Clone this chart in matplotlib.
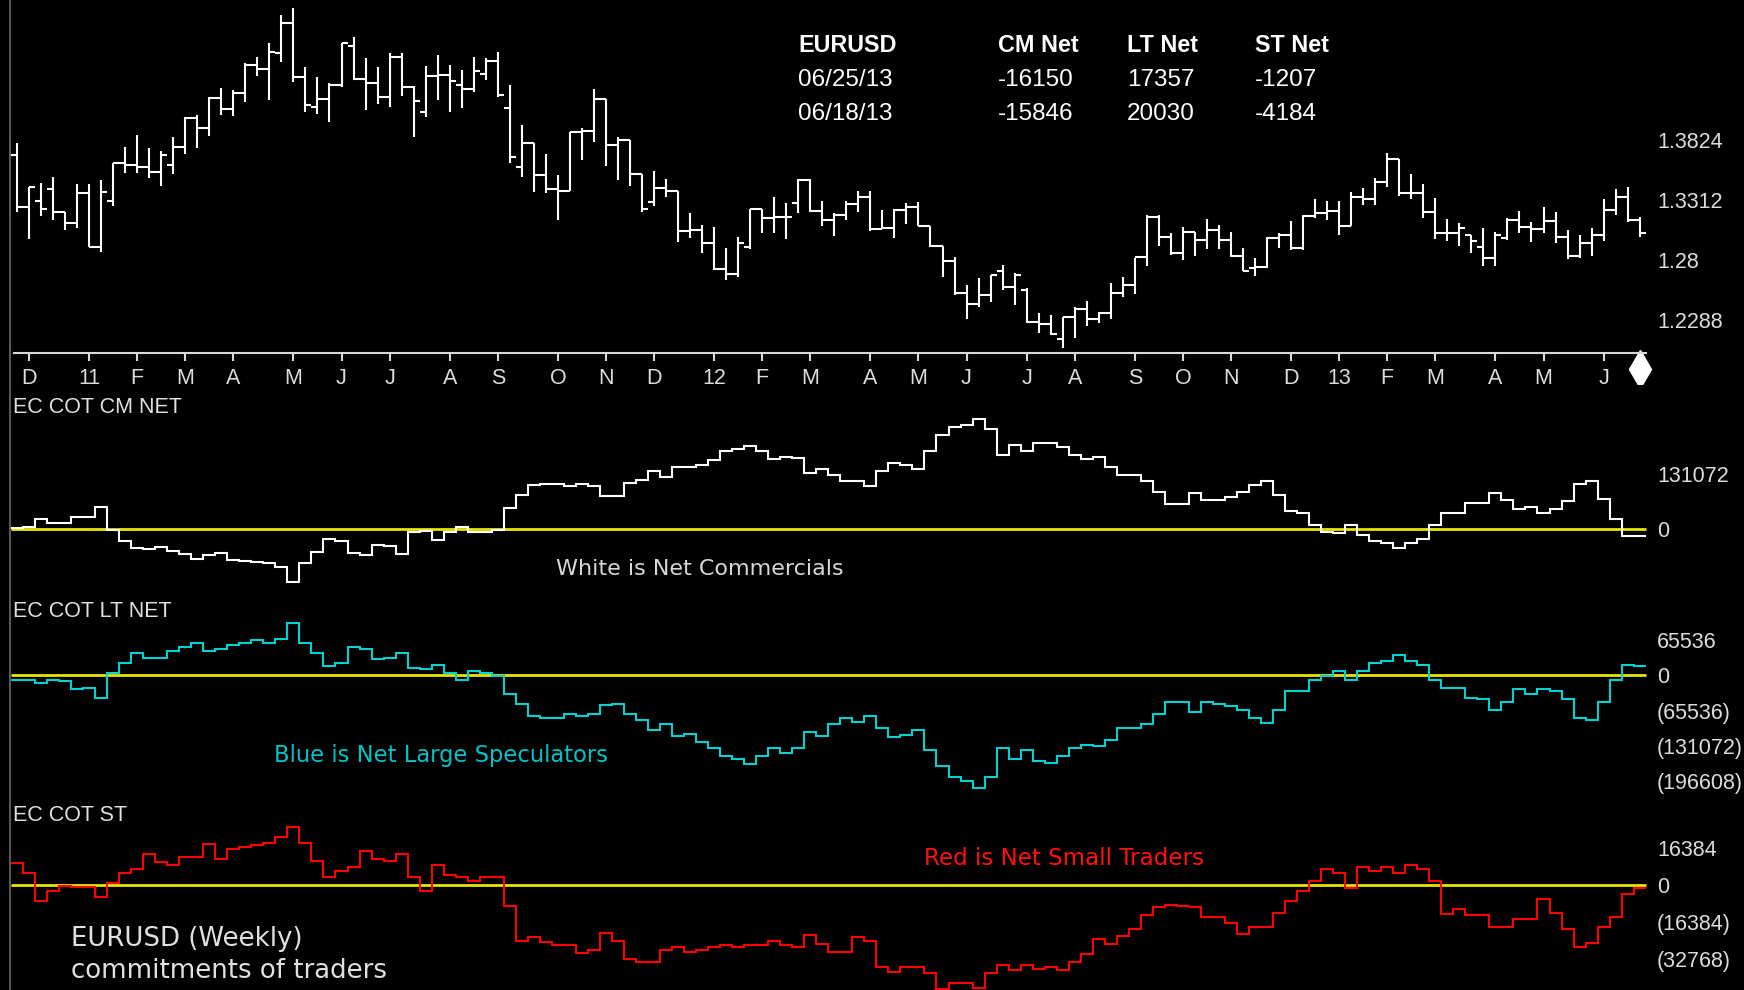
import numpy as np
import pandas as pd
import matplotlib
matplotlib.use("Agg")
import matplotlib.pyplot as plt
from matplotlib.lines import Line2D

# weekly EURUSD bars (Friday closes) from 26 Nov 2010
first_week = "2010-11-26"

opens = [1.3696, 1.3250, 1.3301, 1.3403, 1.3210, 1.3113, 1.3369, 1.2909, 1.3304, 1.3625,
         1.3611, 1.3597, 1.3554, 1.3611, 1.3768, 1.4009, 1.3924, 1.4180, 1.4086, 1.4228,
         1.4464, 1.4427, 1.4564, 1.4820, 1.4359, 1.4109, 1.4174, 1.4294, 1.4626, 1.4345,
         1.4314, 1.4194, 1.4536, 1.4280, 1.4066, 1.4371, 1.4379, 1.4294, 1.4257, 1.4388,
         1.4501, 1.4095, 1.3597, 1.3796, 1.3526, 1.3403, 1.3389, 1.3895, 1.3901, 1.4171,
         1.3782, 1.3824, 1.3534, 1.3298, 1.3412, 1.3389, 1.3048, 1.3056, 1.2943, 1.2721,
         1.2681, 1.2914, 1.3233, 1.3156, 1.3170, 1.3290, 1.3483, 1.3221, 1.3142, 1.3184,
         1.3278, 1.3341, 1.3062, 1.3071, 1.3227, 1.3250, 1.3093, 1.2923, 1.2792, 1.2516,
         1.2425, 1.2502, 1.2709, 1.2573, 1.2544, 1.2274, 1.2254, 1.2126, 1.2317, 1.2382,
         1.2294, 1.2351, 1.2516, 1.2587, 1.2829, 1.3170, 1.2994, 1.2857, 1.3042, 1.2971,
         1.3056, 1.2971, 1.2835, 1.2729, 1.2744, 1.2985, 1.3014, 1.2900, 1.3176, 1.3199,
         1.3221, 1.3091, 1.3341, 1.3318, 1.3469, 1.3659, 1.3375, 1.3369, 1.3207, 1.3028,
         1.3028, 1.3014, 1.2914, 1.2815, 1.2985, 1.3142, 1.3085, 1.3062, 1.3136, 1.2994,
         1.2835, 1.2943, 1.3014, 1.3227, 1.3341, 1.3142]
highs = [1.3802, 1.3426, 1.3455, 1.3512, 1.3210, 1.3446, 1.3446, 1.3483, 1.3631, 1.3768,
         1.3867, 1.3753, 1.3731, 1.3853, 1.4024, 1.4038, 1.4188, 1.4265, 1.4251, 1.4479,
         1.4536, 1.4655, 1.4891, 1.4948, 1.4450, 1.4365, 1.4308, 1.4649, 1.4706, 1.4521,
         1.4450, 1.4570, 1.4564, 1.4285, 1.4456, 1.4550, 1.4464, 1.4422, 1.4536, 1.4521,
         1.4572, 1.4294, 1.3952, 1.3802, 1.3702, 1.3526, 1.3895, 1.3924, 1.4262, 1.4171,
         1.3853, 1.3824, 1.3534, 1.3563, 1.3492, 1.3389, 1.3204, 1.3099, 1.3085, 1.2900,
         1.2994, 1.3236, 1.3233, 1.3341, 1.3290, 1.3492, 1.3492, 1.3304, 1.3204, 1.3304,
         1.3392, 1.3392, 1.3227, 1.3233, 1.3290, 1.3293, 1.3093, 1.2923, 1.2829, 1.2587,
         1.2644, 1.2672, 1.2758, 1.2687, 1.2559, 1.2345, 1.2331, 1.2317, 1.2402, 1.2453,
         1.2360, 1.2601, 1.2658, 1.2820, 1.3184, 1.3184, 1.3028, 1.3079, 1.3042, 1.3150,
         1.3099, 1.3036, 1.2900, 1.2815, 1.3000, 1.3028, 1.3133, 1.3184, 1.3321, 1.3304,
         1.3304, 1.3384, 1.3412, 1.3497, 1.3716, 1.3659, 1.3534, 1.3446, 1.3327, 1.3150,
         1.3119, 1.3014, 1.3071, 1.3036, 1.3156, 1.3221, 1.3128, 1.3256, 1.3213, 1.3056,
         1.3014, 1.3071, 1.3321, 1.3406, 1.3426, 1.3170]
lows = [1.3213, 1.2977, 1.3176, 1.3142, 1.3056, 1.3071, 1.2909, 1.2866, 1.3261, 1.3540,
        1.3540, 1.3497, 1.3432, 1.3534, 1.3702, 1.3759, 1.3861, 1.4038, 1.4029, 1.4152,
        1.4373, 1.4166, 1.4493, 1.4322, 1.4066, 1.4046, 1.3981, 1.4274, 1.4336, 1.4080,
        1.4132, 1.4103, 1.4203, 1.3847, 1.4018, 1.4166, 1.4066, 1.4095, 1.4237, 1.4336,
        1.4188, 1.3625, 1.3506, 1.3384, 1.3375, 1.3142, 1.3389, 1.3654, 1.3810, 1.3605,
        1.3483, 1.3435, 1.3213, 1.3264, 1.3341, 1.2957, 1.2991, 1.2857, 1.2715, 1.2630,
        1.2652, 1.2891, 1.3028, 1.3028, 1.2977, 1.3199, 1.3207, 1.3093, 1.3005, 1.3142,
        1.3207, 1.3051, 1.3062, 1.2991, 1.3108, 1.3093, 1.2914, 1.2652, 1.2502, 1.2294,
        1.2402, 1.2445, 1.2544, 1.2416, 1.2266, 1.2175, 1.2160, 1.2047, 1.2138, 1.2240,
        1.2260, 1.2297, 1.2488, 1.2510, 1.2752, 1.2920, 1.2843, 1.2800, 1.2835, 1.2891,
        1.2891, 1.2829, 1.2709, 1.2664, 1.2729, 1.2900, 1.2886, 1.2886, 1.3156, 1.3142,
        1.3014, 1.3091, 1.3270, 1.3270, 1.3426, 1.3347, 1.3318, 1.3156, 1.2977, 1.2965,
        1.2920, 1.2857, 1.2752, 1.2752, 1.2971, 1.3028, 1.2957, 1.3028, 1.2943, 1.2806,
        1.2815, 1.2835, 1.2965, 1.3184, 1.3128, 1.2994]
closes = [1.3250, 1.3420, 1.3233, 1.3210, 1.3113, 1.3369, 1.2909, 1.3384, 1.3625, 1.3611,
          1.3597, 1.3554, 1.3696, 1.3768, 1.4009, 1.3924, 1.4180, 1.4086, 1.4228, 1.4464,
          1.4427, 1.4572, 1.4820, 1.4359, 1.4123, 1.4174, 1.4294, 1.4649, 1.4345, 1.4314,
          1.4194, 1.4536, 1.4280, 1.4160, 1.4371, 1.4379, 1.4328, 1.4257, 1.4416, 1.4501,
          1.4208, 1.3682, 1.3796, 1.3526, 1.3403, 1.3389, 1.3895, 1.3901, 1.4171, 1.3782,
          1.3824, 1.3534, 1.3233, 1.3412, 1.3389, 1.3048, 1.3056, 1.2943, 1.2721, 1.2681,
          1.2943, 1.3233, 1.3156, 1.3170, 1.3170, 1.3483, 1.3221, 1.3142, 1.3184, 1.3278,
          1.3341, 1.3062, 1.3071, 1.3227, 1.3250, 1.3093, 1.2923, 1.2792, 1.2516, 1.2425,
          1.2502, 1.2672, 1.2573, 1.2672, 1.2274, 1.2254, 1.2166, 1.2317, 1.2382, 1.2294,
          1.2345, 1.2516, 1.2587, 1.2829, 1.3170, 1.2994, 1.2857, 1.3042, 1.2971, 1.3056,
          1.2971, 1.2835, 1.2709, 1.2744, 1.2985, 1.3014, 1.2900, 1.3176, 1.3199, 1.3221,
          1.3091, 1.3341, 1.3318, 1.3469, 1.3659, 1.3375, 1.3369, 1.3207, 1.3028, 1.3028,
          1.3071, 1.2965, 1.2815, 1.3014, 1.3142, 1.3085, 1.3062, 1.3136, 1.2994, 1.2835,
          1.2943, 1.3014, 1.3227, 1.3341, 1.3142, 1.3028]

# commitments of traders, net contracts per week
cm_net = [2000, 6000, 25000, 14000, 14000, 30000, 30000, 54000, -2000, -28000,
          -44000, -48000, -43000, -51000, -59000, -71000, -61000, -57000, -72000, -75000,
          -79000, -81000, -91000, -125000, -81000, -53000, -24000, -29000, -57000, -61000,
          -37000, -40000, -59000, -6000, -4000, -25000, -6000, 6000, -6000, -6000,
          -2000, 50000, 82000, 105000, 108000, 108000, 103000, 107000, 104000, 80000,
          80000, 110000, 118000, 140000, 124000, 148000, 148000, 153000, 165000, 187000,
          191000, 199000, 187000, 167000, 173000, 171000, 133000, 143000, 129000, 116000,
          115000, 104000, 140000, 157000, 153000, 143000, 187000, 225000, 243000, 248000,
          262000, 238000, 176000, 201000, 187000, 205000, 205000, 195000, 176000, 167000,
          172000, 148000, 129000, 129000, 114000, 90000, 61000, 61000, 86000, 71000,
          71000, 76000, 90000, 105000, 114000, 81000, 43000, 38000, 10000, -6000,
          -10000, 10000, -14000, -29000, -33000, -44000, -33000, -24000, 10000, 38000,
          38000, 62000, 62000, 86000, 71000, 48000, 52000, 38000, 48000, 67000,
          109000, 114000, 72000, 24000, -15846, -16150]
lt_net = [-8000, -8000, -15000, -8000, -11000, -26000, -23000, -42000, 4000, 23000,
          42000, 33000, 33000, 46000, 53000, 60000, 46000, 49000, 57000, 60000,
          65000, 60000, 68000, 98000, 60000, 42000, 18000, 23000, 53000, 49000,
          30000, 33000, 42000, 14000, 11000, 19000, 4000, -8000, 8000, 4000,
          -1000, -34000, -53000, -75000, -79000, -79000, -72000, -75000, -72000, -56000,
          -53000, -72000, -83000, -102000, -91000, -113000, -110000, -125000, -136000, -151000,
          -156000, -166000, -151000, -136000, -144000, -135000, -106000, -113000, -91000, -79000,
          -87000, -76000, -98000, -114000, -111000, -102000, -140000, -169000, -189000, -197000,
          -209000, -189000, -136000, -156000, -140000, -159000, -163000, -151000, -136000, -129000,
          -132000, -121000, -98000, -98000, -91000, -72000, -49000, -49000, -69000, -49000,
          -53000, -57000, -64000, -79000, -88000, -64000, -30000, -30000, -8000, -1000,
          8000, -8000, 8000, 23000, 27000, 38000, 27000, 19000, -8000, -23000,
          -23000, -42000, -45000, -64000, -49000, -26000, -34000, -26000, -30000, -45000,
          -79000, -83000, -49000, -8000, 20030, 17357]
st_net = [9700, 5300, -7200, -2500, -300, -900, -900, -5400, 900, 5300,
          7100, 13400, 10000, 8700, 12300, 12300, 17800, 11200, 15900, 16600,
          17500, 18500, 21200, 25600, 18500, 10400, 3500, 6000, 7800, 14800,
          11500, 10400, 13400, 3400, -2500, 8700, 4400, 3500, 1900, 3400,
          3400, -9100, -24800, -23100, -25000, -26500, -26500, -30000, -28500, -21200,
          -24800, -32600, -33700, -33700, -28500, -27500, -29400, -28500, -27500, -26500,
          -27500, -26500, -26500, -24800, -26500, -27500, -22200, -25900, -29500, -29500,
          -22900, -24800, -36200, -38200, -36200, -36200, -38800, -45700, -43200, -43200,
          -45400, -38800, -35400, -37300, -35400, -37000, -36200, -37300, -33700, -30300,
          -23800, -25900, -22300, -19400, -13400, -9700, -8800, -9100, -9700, -14100,
          -14100, -16800, -21500, -18500, -18500, -12300, -6900, -2500, 1900, 7100,
          5300, -1300, 7800, 6000, 7800, 5300, 8800, 7100, 1900, -12600,
          -10600, -13200, -13200, -18500, -18500, -15000, -15000, -6200, -12300, -19400,
          -27300, -25600, -18500, -14100, -4184, -1207]

report_dates = ["06/25/13", "06/18/13"]

price_ticks = [1.3824, 1.3312, 1.28, 1.2288]
cm_ticks = [131072, 0]
cm_labels = ["131072", "0"]
lt_ticks = [65536, 0, -65536, -131072, -196608]
lt_labels = ["65536", "0", "(65536)", "(131072)", "(196608)"]
st_ticks = [16384, 0, -16384, -32768]
st_labels = ["16384", "0", "(16384)", "(32768)"]

plt.rcParams["font.family"] = ["Liberation Sans", "DejaVu Sans"]

W, H = 1744, 990
fig = plt.figure(figsize=(W / 100, H / 100), dpi=100, facecolor="black")

dates = pd.date_range(first_week, periods=len(closes), freq="7D")
x = np.arange(len(dates))
XLIM = (-0.58, 135.86)


def panel(top, bottom):
    ax = fig.add_axes([10 / W, 1 - bottom / H, 1640 / W, (bottom - top) / H])
    ax.set_facecolor("black")
    ax.set_xlim(*XLIM)
    for s in ax.spines.values():
        s.set_visible(False)
    ax.yaxis.tick_right()
    ax.tick_params(axis="y", length=0, pad=5, labelsize=15.5, labelcolor="#dcdcdc")
    return ax


# price bars
ax = panel(0, 352.7)
ax.set_ylim(1.2009, 1.5019)
ax.vlines(x, lows, highs, color="white", lw=1.5)
ax.hlines(opens, x - 0.5, x, color="white", lw=1.5)
ax.hlines(closes, x, x + 0.5, color="white", lw=1.5)
ax.set_yticks(price_ticks, [f"{v:g}" for v in price_ticks])

month_idx = [i for i in range(1, len(dates)) if dates[i].month != dates[i - 1].month]
month_lbl = [f"{dates[i]:%y}" if dates[i].month == 1 else f"{dates[i]:%b}"[0] for i in month_idx]
ax.spines["bottom"].set_visible(True)
ax.spines["bottom"].set_color("#d8d8d8")
ax.spines["bottom"].set_linewidth(1.5)
ax.spines["bottom"].set_bounds(-0.25, x[-1] + 0.5)
ax.set_xticks(month_idx, month_lbl)
ax.tick_params(axis="x", direction="out", length=5.5, width=1.5, color="#d8d8d8",
               pad=5.5, labelsize=15.5, labelcolor="#dcdcdc")
ax.plot([x[-1]], [-0.046], marker="d", ms=19, color="white",
        transform=ax.get_xaxis_transform(), clip_on=False)

# COT panels
edges = np.arange(len(x) + 1) - 0.5
cot = [
    (385, 600, (-168485, 343880), cm_net, "white", cm_ticks, cm_labels),
    (600, 800, (-232166, 140194), lt_net, "#00d2d2", lt_ticks, lt_labels),
    (800, 990, (-46200, 37268), st_net, "#ff0000", st_ticks, st_labels),
]
for top, bottom, ylim, values, color, ticks, labels in cot:
    a = panel(top, bottom)
    a.set_ylim(*ylim)
    a.set_xticks([])
    a.hlines(0, -0.5, x[-1] + 0.5, color="#e6e600", lw=2, zorder=1)
    a.stairs(values, edges, baseline=None, color=color, lw=1.5, zorder=2)
    a.set_yticks(ticks, labels)

# left border
fig.add_artist(Line2D([10 / W, 10 / W], [0, 1], color="#6b6b63", lw=1.2))


def label(px, py, s, **kw):
    fig.text(px / W, 1 - py / H, s, va="baseline", ha="left", **kw)


label(13, 413, "EC COT CM NET", fontsize=15.5, color="#e0e0e0")
label(13, 617, "EC COT LT NET", fontsize=15.5, color="#e0e0e0")
label(13, 821, "EC COT ST", fontsize=15.5, color="#e0e0e0")

label(556, 575, "White is Net Commercials", fontsize=16, color="#d8d8d8", family="DejaVu Sans")
label(274, 762, "Blue is Net Large Speculators", fontsize=16.3, color="#00c4c8", family="DejaVu Sans")
label(924, 865, "Red is Net Small Traders", fontsize=16.6, color="#ff1010", family="DejaVu Sans")
label(71, 946, "EURUSD (Weekly)", fontsize=18.7, color="#e0e0e0", family="DejaVu Sans")
label(71, 978, "commitments of traders", fontsize=18.7, color="#e0e0e0", family="DejaVu Sans")

# latest readings table
cols = [798, 998, 1127, 1255]
rows = [("EURUSD", "CM Net", "LT Net", "ST Net"),
        (report_dates[0], str(cm_net[-1]), str(lt_net[-1]), str(st_net[-1])),
        (report_dates[1], str(cm_net[-2]), str(lt_net[-2]), str(st_net[-2]))]
for r, (row, base) in enumerate(zip(rows, [52.3, 86, 120])):
    for cx, s in zip(cols, row):
        if r == 0:
            label(cx, base, s, fontsize=16.8, fontweight="bold", color="white")
        else:
            label(cx, base, s, fontsize=17.5, color="white")

fig.savefig("out.png", dpi=100, facecolor="black")
